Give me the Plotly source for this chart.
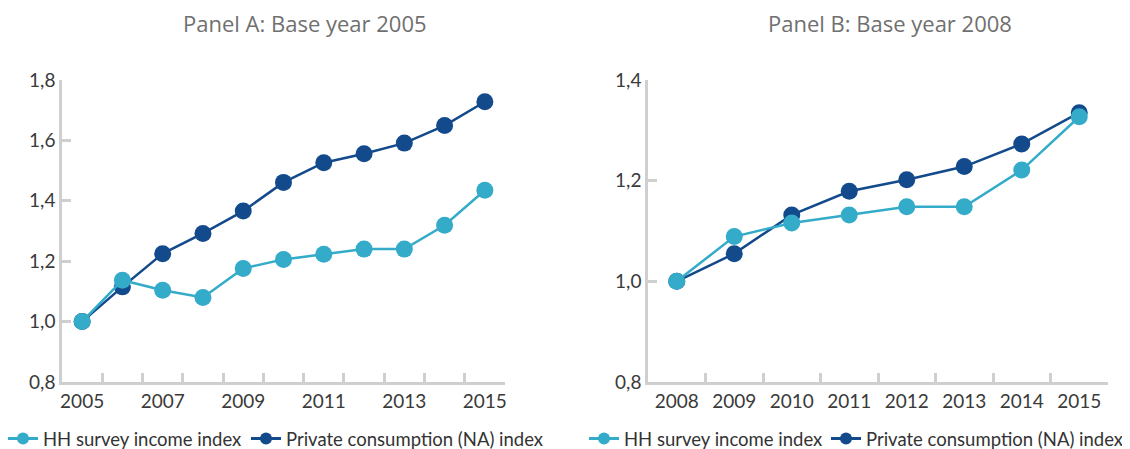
import plotly.graph_objects as go

years_a = ["2005", "2006", "2007", "2008", "2009", "2010", "2011", "2012", "2013", "2014", "2015"]
hh_a = [1.000, 1.137, 1.104, 1.080, 1.176, 1.206, 1.223, 1.240, 1.240, 1.319, 1.435]
pc_a = [1.000, 1.115, 1.225, 1.292, 1.366, 1.461, 1.526, 1.556, 1.591, 1.649, 1.728]
xlabels_a = ["2005", "", "2007", "", "2009", "", "2011", "", "2013", "", "2015"]

years_b = ["2008", "2009", "2010", "2011", "2012", "2013", "2014", "2015"]
hh_b = [1.000, 1.089, 1.116, 1.132, 1.148, 1.148, 1.221, 1.327]
pc_b = [1.000, 1.055, 1.132, 1.179, 1.202, 1.228, 1.273, 1.335]

yticks_a = [0.8, 1.0, 1.2, 1.4, 1.6, 1.8]
yticks_b = [0.8, 1.0, 1.2, 1.4]

name_hh = "HH survey income index"
name_pc = "Private consumption (NA) index"
title_a = "Panel A: Base year 2005"
title_b = "Panel B: Base year 2008"

LIGHT = "#33abc9"
DARK = "#134a8b"
FONT = "Lato"
OFF = 8  # page body margin
W, H = 1130 - OFF, 449 - OFF


def px(sx):
    return (sx - OFF) / W


def py(sy):
    return (449 - sy) / H


fig = go.Figure()


def add(x, y, name, color, xa, ya):
    fig.add_trace(go.Scatter(
        x=x, y=y, name=name, mode="lines+markers",
        line=dict(color=color, width=2.5),
        marker=dict(color=color, size=17),
        xaxis=xa, yaxis=ya, showlegend=False,
        cliponaxis=False,
    ))


def add_key(name, color, xa, ya, legend):
    fig.add_trace(go.Scatter(
        x=[None], y=[None], name=name, mode="lines+markers",
        line=dict(color=color, width=3),
        marker=dict(color=color, size=12),
        xaxis=xa, yaxis=ya, legend=legend, showlegend=True,
    ))


add(years_a, pc_a, name_pc, DARK, "x", "y")
add(years_a, hh_a, name_hh, LIGHT, "x", "y")
add(years_b, pc_b, name_pc, DARK, "x2", "y2")
add(years_b, hh_b, name_hh, LIGHT, "x2", "y2")
add_key(name_hh, LIGHT, "x", "y", "legend")
add_key(name_pc, DARK, "x", "y", "legend2")
add_key(name_hh, LIGHT, "x2", "y2", "legend3")
add_key(name_pc, DARK, "x2", "y2", "legend4")

ydom = [py(382), py(80)]

axis_common = dict(
    showline=True, linecolor="#cfcfcf", linewidth=2.5,
    ticks="inside", ticklen=9, tickwidth=2.5, tickcolor="#cfcfcf",
    showgrid=False, zeroline=False, automargin=False,
    tickfont=dict(family=FONT, size=19, color="#3a3a3a"),
)

legend_font = dict(family=FONT, size=18.5, color="#333333")
title_font = dict(family="Open Sans", size=22, color="#707070")


def leg(sx):
    return dict(orientation="h", x=px(sx), xanchor="left", y=py(439), yanchor="middle",
                font=legend_font, itemwidth=30, bgcolor="rgba(0,0,0,0)")


fig.update_layout(
    width=W, height=H,
    margin=dict(l=0, r=0, t=0, b=0, autoexpand=False),
    paper_bgcolor="white", plot_bgcolor="white",
    separators=", ",
    font=dict(family=FONT, color="#444444"),
    xaxis=dict(domain=[px(62), px(505)], type="category",
               tickmode="array", tickvals=years_a, ticktext=xlabels_a, tickangle=0,
               tickson="boundaries", range=[-0.5, len(years_a) - 0.5],
               anchor="y", **axis_common),
    yaxis=dict(domain=ydom, range=[0.8, 1.8], tickvals=yticks_a,
               tickformat=".1f", anchor="x", **axis_common),
    xaxis2=dict(domain=[px(648), px(1108)], type="category",
                tickmode="array", tickvals=years_b, ticktext=years_b, tickangle=0,
                tickson="boundaries", range=[-0.5, len(years_b) - 0.5],
                anchor="y2", **axis_common),
    yaxis2=dict(domain=ydom, range=[0.8, 1.4], tickvals=yticks_b,
                tickformat=".1f", anchor="x2", **axis_common),
    legend=leg(3),
    legend2=leg(246),
    legend3=leg(584),
    legend4=leg(826),
    annotations=[
        dict(text=title_a, x=px(305), y=py(23), xref="paper", yref="paper",
             xanchor="center", yanchor="middle", showarrow=False, font=title_font),
        dict(text=title_b, x=px(890), y=py(23), xref="paper", yref="paper",
             xanchor="center", yanchor="middle", showarrow=False, font=title_font),
    ],
)

fig.write_html("out.html")
